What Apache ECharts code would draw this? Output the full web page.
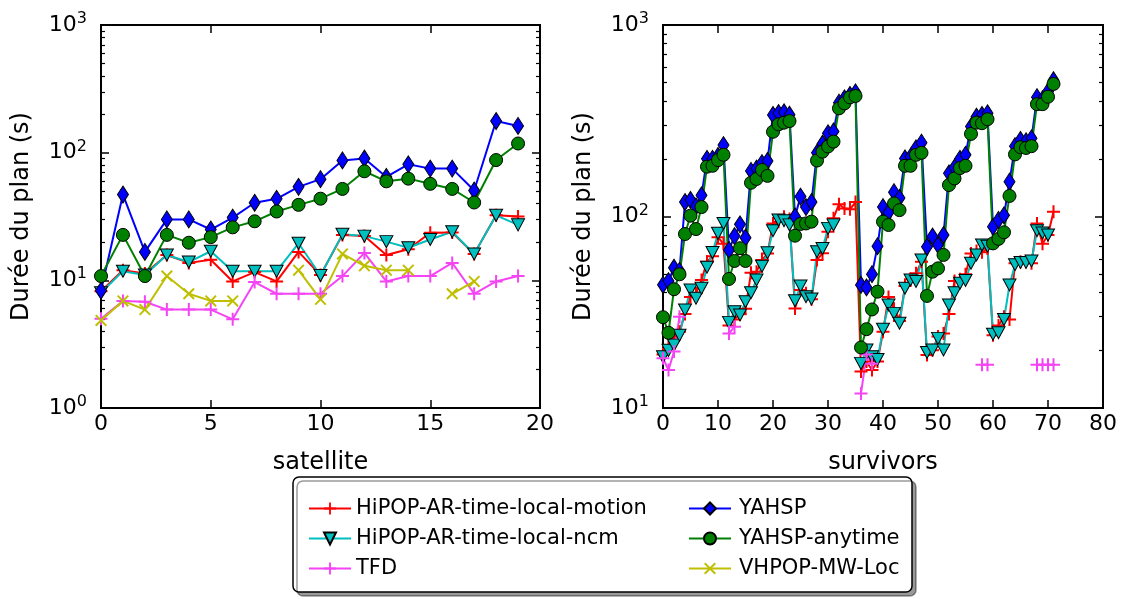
<!DOCTYPE html>
<html><head><meta charset="utf-8">
<script src="https://cdn.jsdelivr.net/npm/echarts@6/dist/echarts.min.js"></script>
<style>html,body{margin:0;padding:0;background:#fff}#c{width:1122px;height:599px}</style>
</head><body><div id="c"></div>
<script>
// ---------- data ----------
const seriesNames = ['HiPOP-AR-time-local-motion','HiPOP-AR-time-local-ncm','TFD','YAHSP','YAHSP-anytime','VHPOP-MW-Loc'];

const satelliteX = [0,1,2,3,4,5,6,7,8,9,10,11,12,13,14,15,16,17,18,19];
const satMotion  = [8.2,12,11.3,15.8,13.7,14.5,9.8,11.6,9.8,16.7,11,22.7,22.2,15.8,17.5,23.6,23.7,16.1,32.3,31.6];
const satNcm     = [8,11.8,11,15.8,13.9,16.9,11.8,11.8,11.8,19.5,10.9,23,22.2,20.1,18,20.9,24,16.1,32.3,27.2];
const satTFD     = [5.0,6.9,6.8,5.9,5.9,5.9,4.95,9.7,7.85,7.85,7.85,10.8,16.4,9.8,10.8,10.8,13.7,7.85,9.8,10.8];
const satYahsp   = [8.3,47,16.7,30,30,25,31,40.5,43.5,54,62,87,90,64.5,81,75,75,50.5,177,162];
const satAnytime = [10.8,22.7,10.8,22.7,19.7,21.8,26,29,34.6,39,43.6,52,71.5,59.6,62.6,57,52,40.7,87.5,118];
const satVhpop   = [4.85,6.9,5.9,10.8,7.85,6.9,6.9,null,null,12,7.1,16.1,13,12,12,null,7.85,9.8,null,null];

const survivorsX = [0,1,2,3,4,5,6,7,8,9,10,11,12,13,14,15,16,17,18,19,20,21,22,23,24,25,26,27,28,29,30,31,32,33,34,35,
  36,37,38,39,40,41,42,43,44,45,46,47,48,49,50,51,52,53,54,55,56,57,58,59,60,61,62,63,64,65,66,67,68,69,70,71];
const surMotion = [19,21,23.6,25,31,38,39.7,46.6,58,62,78,72,
  27,29,31,33,50.8,51.5,59.3,64,92,94,99.6,97,
  33.1,41.3,39.7,37,59.3,64.2,83.3,98,116,110,109,119,
  15.5,17.5,15.8,17.5,25,38,33,28.5,43.3,47,50.5,58,
  18.9,20,23.6,24.5,31,46,47,50,64,66,65,68,
  24,27,30,29,57,58,58,57,92,72,80,106];
const surNcm = [18.5,20,21.3,24,32.5,41.3,37.4,42.2,54.3,64.8,81.7,92,
  28,31.8,30.6,35.9,40,46.6,55,64.7,84.3,96,95,90.4,
  36.3,43.4,38.1,37.1,65.5,68,86.7,90.4,null,null,null,null,
  17.1,20.1,18.5,17.9,25.8,34.5,31.2,27.7,42.2,46.6,45.8,59.3,
  19.5,20.1,23.1,20.1,34.5,40,44.8,46.3,57,63,71,70,
  24.3,24.7,29,43.9,56,57.5,57.5,58.6,84.3,82,80,null];
const surTFD = [18.2,15.8,19.7,30,null,null,null,null,null,null,null,null,
  24.5,26.6,null,null,null,null,null,null,null,null,null,null,
  null,null,null,null,null,null,null,null,null,null,null,null,
  11.9,19,17,null,null,null,null,null,null,null,null,null,
  null,null,null,null,null,null,null,null,null,null,16.8,16.8,
  null,null,null,null,null,null,null,null,16.8,16.8,16.8,16.8];
const surYahsp = [44,46,54,52,119,122,113,129,200,200,207,236,
  66.8,79,91,77.5,173,178,190,195,339,347,350,340,
  100,127,112,119,215,240,272,278,393,414,431,445,
  43.9,42.6,50,70,112,105,134,125,201,205,227,243,
  69.5,78.6,71,80,168,180,200,210,295,332,339,346,
  88.5,96,101.5,152,233,251,247,256,420,410,450,515];
const surAnytime = [29.8,24.7,41.7,49.9,81,101,86,112,182,184,197,210,
  47.2,58.6,68.3,58.6,150,157,175,163,277,303,309,315,
  79.4,91.4,92,94,196,218,232,246,367,390,419,426,
  20.7,25.8,32.7,40.5,94,90.3,117,108,184,184,210,215,
  38.5,51.5,53.6,63,146,158,179,184,270,309,307,322,
  72.4,76.4,82.7,128,211,230,228,233,386,386,422,492];

const leftMajorY  = [1,10,100,1000];
const leftMinorY  = [2,3,4,5,6,7,8,9,20,30,40,50,60,70,80,90,200,300,400,500,600,700,800,900];
const rightMajorY = [10,100,1000];
const rightMinorY = [20,30,40,50,60,70,80,90,200,300,400,500,600,700,800,900];

// ---------- styles ----------
const F = 'DejaVu Sans';
const PLUS  = 'path://M0,5.5H13V7.5H0Z M5.5,0H7.5V13H5.5Z';
const CROSS = 'path://M0,1.4L1.4,0L12,10.6L10.6,12Z M10.6,0L12,1.4L1.4,12L0,10.6Z';
const TRI   = 'path://M0,0L12,0L6,11Z';
const styles = {
  'HiPOP-AR-time-local-motion': {color:'#ff0000', symbol:PLUS, size:13, border:0},
  'HiPOP-AR-time-local-ncm':    {color:'#00bfbf', symbol:TRI, size:[13,12], border:1},
  'TFD':                        {color:'#f444f4', symbol:PLUS, size:13, border:0},
  'YAHSP':                      {color:'#0000ff', symbol:'diamond', size:[11,17], border:1},
  'YAHSP-anytime':              {color:'#008000', symbol:'circle', size:13, border:1},
  'VHPOP-MW-Loc':               {color:'#bfbf00', symbol:CROSS, size:12, border:0}
};

function mk(name, xs, ys, xi, yi) {
  const s = styles[name];
  return {
    type:'line', name, xAxisIndex:xi, yAxisIndex:yi,
    data: xs.map((x,k) => [x, ys[k]]),
    symbol:s.symbol, symbolSize:s.size, showSymbol:true, connectNulls:false,
    lineStyle:{color:s.color, width:2},
    itemStyle:{color:s.color, borderColor:'#000', borderWidth:s.border, opacity:1},
    emphasis:{disabled:true}, animation:false, clip:true
  };
}

function logLabel(v) {
  const e = Math.round(Math.log10(v));
  return '{b|10}{e|' + e + '}';
}
const rich = {
  b:{fontSize:22, fontFamily:F, color:'#000', lineHeight:28},
  e:{fontSize:16, fontFamily:F, color:'#000', lineHeight:16, verticalAlign:'top'}
};

function yAxes(grid, min, max, major, minor) {
  const base = {type:'log', logBase:10, gridIndex:grid, min, max,
    axisLine:{show:false, onZero:false}, splitLine:{show:false}, minorTick:{show:false}};
  return [
    Object.assign({}, base, {position:'left',
      axisTick:{show:true, inside:true, length:8, lineStyle:{color:'#000', width:1.5}, customValues:major},
      axisLabel:{show:true, customValues:major, formatter:logLabel, rich, margin:14},
      name:'Durée du plan (s)', nameLocation:'middle', nameGap:67,
      nameTextStyle:{fontSize:24, fontFamily:F, color:'#000'}}),
    Object.assign({}, base, {position:'left',
      axisTick:{show:true, inside:true, length:4, lineStyle:{color:'#000', width:1.2}, customValues:minor},
      axisLabel:{show:false}}),
    Object.assign({}, base, {position:'right',
      axisTick:{show:true, inside:true, length:8, lineStyle:{color:'#000', width:1.5}, customValues:major},
      axisLabel:{show:false}}),
    Object.assign({}, base, {position:'right',
      axisTick:{show:true, inside:true, length:4, lineStyle:{color:'#000', width:1.2}, customValues:minor},
      axisLabel:{show:false}})
  ];
}
function xAxes(grid, max, interval, name) {
  const base = {type:'value', gridIndex:grid, min:0, max, interval,
    axisLine:{show:false, onZero:false}, splitLine:{show:false}};
  return [
    Object.assign({}, base, {position:'bottom',
      axisTick:{show:true, inside:true, length:8, lineStyle:{color:'#000', width:1.5}},
      axisLabel:{show:true, fontSize:22, fontFamily:F, color:'#000', margin:5},
      name, nameLocation:'middle', nameGap:43,
      nameTextStyle:{fontSize:24, fontFamily:F, color:'#000'}}),
    Object.assign({}, base, {position:'top',
      axisTick:{show:true, inside:true, length:8, lineStyle:{color:'#000', width:1.5}},
      axisLabel:{show:false}})
  ];
}

const series = [];
series.push(mk(seriesNames[0], satelliteX, satMotion, 0, 0));
series.push(mk(seriesNames[1], satelliteX, satNcm, 0, 0));
series.push(mk(seriesNames[2], satelliteX, satTFD, 0, 0));
series.push(mk(seriesNames[3], satelliteX, satYahsp, 0, 0));
series.push(mk(seriesNames[4], satelliteX, satAnytime, 0, 0));
series.push(mk(seriesNames[5], satelliteX, satVhpop, 0, 0));
series.push(mk(seriesNames[0], survivorsX, surMotion, 2, 4));
series.push(mk(seriesNames[1], survivorsX, surNcm, 2, 4));
series.push(mk(seriesNames[2], survivorsX, surTFD, 2, 4));
series.push(mk(seriesNames[3], survivorsX, surYahsp, 2, 4));
series.push(mk(seriesNames[4], survivorsX, surAnytime, 2, 4));

const legendBase = {orient:'vertical', top:493, itemWidth:42, itemHeight:15, itemGap:9,
  selectedMode:false, z:10,
  textStyle:{fontSize:21, fontFamily:F, color:'#000', lineHeight:20, padding:[0,0,0,0]}};

const option = {
  animation:false,
  backgroundColor:'#fff',
  grid:[
    {left:101, top:25, width:439, height:383, show:true, borderColor:'#000', borderWidth:2, backgroundColor:'rgba(0,0,0,0)'},
    {left:663, top:25, width:440, height:383, show:true, borderColor:'#000', borderWidth:2, backgroundColor:'rgba(0,0,0,0)'}
  ],
  xAxis: [].concat(xAxes(0, 20, 5, 'satellite'), xAxes(1, 80, 10, 'survivors')),
  yAxis: [].concat(yAxes(0, 1, 1000, leftMajorY, leftMinorY), yAxes(1, 10, 1000, rightMajorY, rightMinorY)),
  legend:[
    Object.assign({}, legendBase, {left:303, data:seriesNames.slice(0,3)}),
    Object.assign({}, legendBase, {left:683, data:seriesNames.slice(3,6),
      textStyle:Object.assign({}, legendBase.textStyle, {padding:[0,0,0,3]})})
  ],
  graphic:[{type:'rect', z:1, shape:{x:293, y:477, width:619, height:115, r:6},
    style:{fill:'#fff', stroke:'#000', lineWidth:1.5, shadowColor:'rgba(0,0,0,0.4)', shadowOffsetX:4, shadowOffsetY:4, shadowBlur:0}}],
  series
};
const chart = echarts.init(document.getElementById('c'), null, {renderer:'canvas'});
chart.setOption(option);
</script></body></html>
